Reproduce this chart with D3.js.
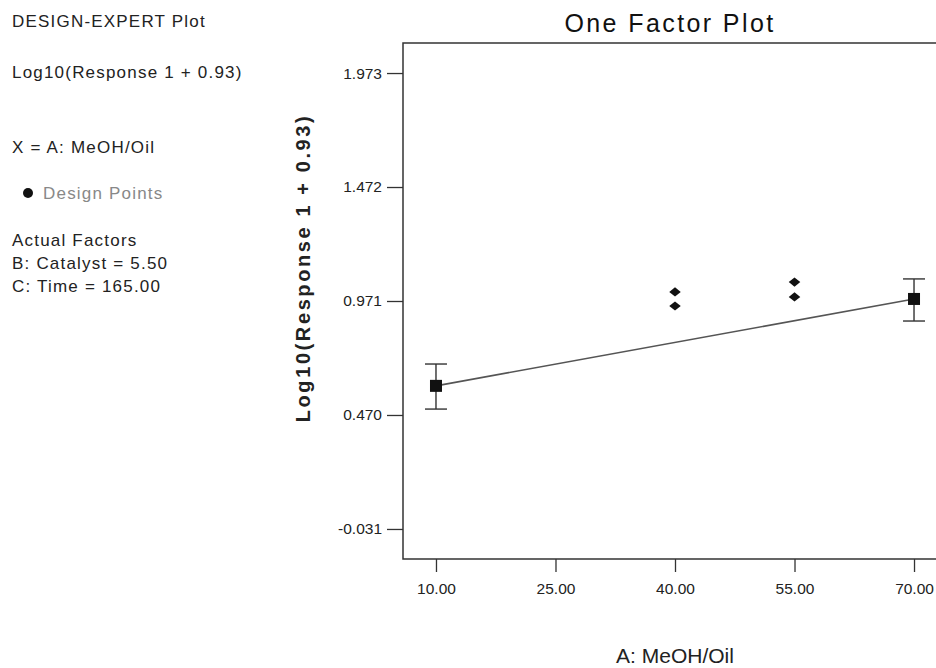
<!DOCTYPE html>
<html>
<head>
<meta charset="utf-8">
<script src="https://cdn.jsdelivr.net/npm/d3@7"></script>
<style>
  body { margin: 0; background: #fff; }
  svg { display: block; font-family: "Liberation Sans", Arial, sans-serif; }
  .info text { font-size: 17px; letter-spacing: 1.2px; fill: #222; }
  .axis text { font-size: 15.5px; fill: #222; }
  .axis line { stroke: #333; stroke-width: 1.3; }
</style>
</head>
<body>
<svg id="chart" width="936" height="668"></svg>
<script>
// factor levels where the model is evaluated
const factorLevels = [10, 70];
const predicted = [0.598, 0.980];
const lowerCI = [0.496, 0.883];
const upperCI = [0.694, 1.068];

// design points
const designX = [40, 40, 55, 55];
const designY = [1.011, 0.949, 1.054, 0.989];

const xTicks = [10, 25, 40, 55, 70];
const yTicks = [-0.031, 0.470, 0.971, 1.472, 1.973];

const infoLines = [
  { t: "DESIGN-EXPERT Plot", y: 27 },
  { t: "Log10(Response 1 + 0.93)", y: 78 },
  { t: "X = A: MeOH/Oil", y: 153 },
  { t: "Design Points", y: 199, gray: true },
  { t: "Actual Factors", y: 246 },
  { t: "B: Catalyst = 5.50", y: 269 },
  { t: "C: Time = 165.00", y: 292 }
];

const svg = d3.select("#chart");

const x = d3.scaleLinear().domain([5.86, 74.14]).range([403, 947]);
const y = d3.scaleLinear().domain([-0.163, 2.105]).range([559, 43]);

// left info panel
const info = svg.append("g").attr("class", "info");
info.selectAll("text")
  .data(infoLines)
  .enter()
  .append("text")
  .attr("x", d => d.gray ? 43 : 12)
  .attr("y", d => d.y)
  .style("fill", d => d.gray ? "#888" : null)
  .text(d => d.t);
info.append("circle").attr("cx", 28).attr("cy", 193).attr("r", 5).attr("fill", "#111");

// title
svg.append("text")
  .attr("x", 670).attr("y", 32)
  .attr("text-anchor", "middle")
  .style("font-size", "25px").style("letter-spacing", "2.4px").style("fill", "#111")
  .text("One Factor Plot");

// axes
const yAxis = d3.axisLeft(y).tickValues(yTicks).tickFormat(d => d.toFixed(3)).tickSize(16).tickPadding(5);
const gy = svg.append("g").attr("class", "axis").attr("transform", "translate(403,0)").call(yAxis);
gy.select(".domain").remove();

const xAxis = d3.axisBottom(x).tickValues(xTicks).tickFormat(d => d.toFixed(2)).tickSize(13).tickPadding(11);
const gx = svg.append("g").attr("class", "axis").attr("transform", "translate(0,559)").call(xAxis);
gx.select(".domain").remove();

// frame
svg.append("path")
  .attr("d", `M${x.range()[1]},${y.range()[1]}H${x.range()[0]}V${y.range()[0]}H${x.range()[1]}`)
  .attr("fill", "none").attr("stroke", "#333").attr("stroke-width", 1.5);

// axis titles
svg.append("text")
  .attr("transform", "translate(310,268) rotate(-90)")
  .attr("text-anchor", "middle")
  .style("font-size", "20px").style("font-weight", "bold").style("letter-spacing", "2.6px").style("fill", "#222")
  .text("Log10(Response 1 + 0.93)");

svg.append("text")
  .attr("x", 675).attr("y", 663)
  .attr("text-anchor", "middle")
  .style("font-size", "21px").style("fill", "#222")
  .text("A: MeOH/Oil");

// prediction line
const line = d3.line().x((d, i) => x(factorLevels[i])).y(d => y(d));
svg.append("path")
  .datum(predicted)
  .attr("d", line)
  .attr("fill", "none").attr("stroke", "#555").attr("stroke-width", 1.6);

// error bars
const bars = svg.append("g").attr("stroke", "#333").attr("stroke-width", 1.4);
factorLevels.forEach((f, i) => {
  const cx = x(f);
  bars.append("line").attr("x1", cx).attr("x2", cx).attr("y1", y(upperCI[i])).attr("y2", y(lowerCI[i]));
  bars.append("line").attr("x1", cx - 11).attr("x2", cx + 11).attr("y1", y(upperCI[i])).attr("y2", y(upperCI[i]));
  bars.append("line").attr("x1", cx - 11).attr("x2", cx + 11).attr("y1", y(lowerCI[i])).attr("y2", y(lowerCI[i]));
});

// predicted squares
svg.append("g").selectAll("rect")
  .data(predicted)
  .enter()
  .append("rect")
  .attr("x", (d, i) => x(factorLevels[i]) - 6)
  .attr("y", d => y(d) - 6)
  .attr("width", 12).attr("height", 12)
  .attr("fill", "#111");

// design points (diamonds)
const diamond = d3.symbol().type(d3.symbolDiamond2).size(85);
svg.append("g").selectAll("path")
  .data(designY)
  .enter()
  .append("path")
  .attr("d", diamond)
  .attr("transform", (d, i) => `translate(${x(designX[i])},${y(d)}) scale(1,0.8)`)
  .attr("fill", "#111");
</script>
</body>
</html>
